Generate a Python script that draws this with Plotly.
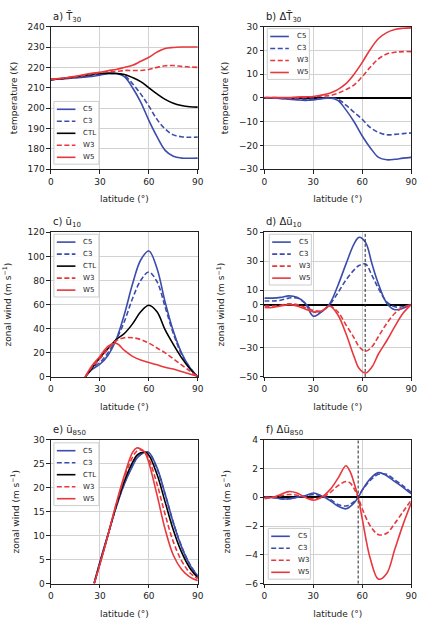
import plotly.graph_objects as go

# ---------------- data ----------------
lat_ab = [0, 5, 10, 15, 20, 25, 30, 35, 40, 45, 50, 55, 60, 65, 70, 75, 80, 85, 90]

# a) T30 (K)
T30_C5 = [214, 214.3, 214.6, 214.9, 215.2, 215.6, 216.2, 216.9, 217, 215.5, 210, 203, 194, 186, 179.3, 176.4, 175.5, 175.4, 175.5]
T30_C3 = [214, 214.3, 214.6, 215, 215.5, 216, 216.5, 217, 217, 216, 212, 207, 201, 194.5, 189.8, 186.9, 186, 185.7, 185.8]
T30_CTL = [214, 214.3, 214.8, 215.4, 216, 216.6, 217, 217.2, 217, 216.5, 215, 213, 210, 207, 204.3, 202.4, 201.3, 200.7, 200.5]
T30_W3 = [214.2, 214.5, 214.9, 215.4, 216.1, 216.9, 217.5, 218, 218, 218.5, 218.5, 218.5, 219, 220, 220.8, 220.9, 220.5, 220.2, 220]
T30_W5 = [214.2, 214.5, 215, 215.6, 216.4, 217.1, 217.6, 218.4, 219, 220, 221, 223, 225, 227.5, 229.3, 229.8, 230, 230, 230]

# b) delta T30 (K)
dT30_C5 = [0, 0, -0.2, -0.5, -0.8, -1, -0.8, -0.3, 0, -1, -5, -10, -16, -21, -25, -26, -25.8, -25.3, -25]
dT30_C3 = [0, 0, -0.2, -0.4, -0.5, -0.6, -0.5, -0.2, 0, -0.5, -3, -6, -9, -12.5, -14.5, -15.5, -15.3, -15, -14.7]
dT30_W3 = [0.2, 0.2, 0.1, 0, 0.1, 0.3, 0.5, 0.8, 1, 2, 3.5, 5.5, 9, 13, 16.5, 18.5, 19.2, 19.5, 19.5]
dT30_W5 = [0.2, 0.2, 0.2, 0.2, 0.4, 0.5, 0.6, 1.2, 2, 3.5, 6, 10, 15, 20.5, 25, 27.5, 28.8, 29.3, 29.5]

# c) u10 (m/s)
lat_c = [21, 25, 30, 35, 40, 45, 50, 55, 60, 65, 70, 75, 80, 85, 90]
u10_C5 = [0, 6, 10.5, 18, 31, 52, 77, 97, 104.5, 90, 62, 38, 20, 8, 0]
u10_C3 = [0, 7, 12, 20, 31, 46, 65, 80, 87, 79, 58, 36, 19, 8, 0]
u10_CTL = [0, 7, 16, 23.5, 31, 36, 44, 54, 59.5, 54, 39, 27, 16, 7, 0]
u10_W3 = [0, 8, 15, 23, 30, 32.5, 32.5, 31, 28, 24, 20, 15, 10, 5, 0]
u10_W5 = [0, 9, 17, 25.5, 27.8, 22, 17, 14, 12, 10, 8, 6.5, 4.5, 2.5, 0.5]

# d) delta u10 (m/s)
lat_d = [0, 5, 10, 15, 20, 25, 30, 35, 40, 45, 50, 55, 58, 62, 66, 70, 75, 80, 85, 90]
du10_C5 = [4.5, 4.5, 5, 6, 5, 1, -8, -5, 0.5, 13, 28, 42, 46.5, 43, 28, 14, 1, -3.5, -2.5, 0]
du10_C3 = [2.5, 2.5, 3, 4.5, 4.5, 1, -5, -5, 0, 8, 17, 24, 27, 28, 20, 11, 2, -1.5, -1.5, 0]
du10_W3 = [-1, -1, -0.5, 0.5, 0, -2, -4, -4.5, -1, -5, -14, -23, -29, -32.3, -29, -22, -13, -6, -2, 0]
du10_W5 = [-2, -2, -1, 0, -1, -3, -5, -4.5, -1, -7, -20, -36, -44, -47.3, -43, -34, -25, -15, -6, 0]
jet_lat_d = 61.8

# e) u850 (m/s)
lat_e = [26.5, 30, 35, 40, 45, 50, 52.5, 55, 57.5, 60, 65, 70, 75, 80, 85, 90]
u850_C5 = [0.1, 4.5, 10.3, 16.0, 20.8, 24.5, 26.1, 26.9, 27.4, 27.4, 24.2, 18.7, 12.7, 7.7, 4.0, 1.5]
u850_C3 = [0.1, 4.4, 10.3, 16.0, 20.9, 24.7, 26.2, 27.0, 27.4, 27.3, 24.0, 18.6, 12.75, 7.8, 4.1, 1.6]
u850_CTL = [0, 4.2, 10.2, 16.2, 21.4, 25.3, 26.7, 27.3, 27.4, 26.8, 22.8, 17.0, 11.2, 6.6, 3.3, 1.2]
u850_W3 = [0, 4.1, 10.2, 16.5, 22.2, 26.4, 27.6, 27.9, 27.4, 26.0, 20.8, 14.4, 8.7, 4.8, 2.3, 1.0]
u850_W5 = [0, 4.0, 10.2, 16.7, 22.6, 27.4, 28.3, 28.1, 27.4, 25.2, 18.5, 11.3, 5.9, 3.0, 1.4, 0.6]

# f) delta u850 (m/s)
lat_f = [0, 5, 10, 15, 20, 25, 30, 35, 40, 45, 50, 52.5, 55, 57.5, 60, 65, 70, 75, 80, 85, 90]
du850_C5 = [0, 0, -0.1, -0.1, 0, 0.1, 0.3, 0.1, -0.2, -0.6, -0.8, -0.65, -0.4, 0, 0.5, 1.3, 1.72, 1.5, 1.1, 0.7, 0.25]
du850_C3 = [0, 0, -0.1, -0.1, 0, 0.1, 0.2, 0.1, -0.1, -0.5, -0.6, -0.5, -0.3, 0, 0.5, 1.2, 1.6, 1.6, 1.2, 0.8, 0.35]
du850_W3 = [0, 0, 0.1, 0.2, 0.15, 0, -0.1, 0, 0.3, 0.8, 1.1, 1.0, 0.6, 0, -0.8, -2.0, -2.6, -2.5, -1.8, -1.0, -0.2]
du850_W5 = [-0.1, 0, 0.2, 0.4, 0.3, 0, -0.2, 0, 0.5, 1.3, 2.2, 1.8, 1.0, 0, -1.5, -4.3, -5.7, -5.3, -3.6, -1.9, -0.4]
jet_lat_f = 57.5

# ---------------- style ----------------
W, H = 426, 620
FONT = "DejaVu Sans"
TXT = "#222222"
BLUE = "#3b4cab"
RED = "#e8383d"
DASH = "5px,2.5px"
STYLE = {
    "C5": (BLUE, "solid"),
    "C3": (BLUE, DASH),
    "CTL": ("black", "solid"),
    "W3": (RED, DASH),
    "W5": (RED, "solid"),
}

fig = go.Figure()

xdom_l = [49 / W, 199 / W]
xdom_r = [267 / W, 417 / W]
ydom_1 = [1 - 167 / H, 1 - 22 / H]
ydom_2 = [1 - 378 / H, 1 - 231 / H]
ydom_3 = [1 - 588 / H, 1 - 442 / H]

WIND = "zonal wind (m s<sup>\u22121</sup>)"
panels = [
    # idx, x, series, xdom, ydom, yrange, yticks, ytitle, standoff, title, zeroline, legend top-left (px)
    (1, lat_ab, {"C5": T30_C5, "C3": T30_C3, "CTL": T30_CTL, "W3": T30_W3, "W5": T30_W5},
     xdom_l, ydom_1, [170, 240], list(range(170, 241, 10)), "temperature (K)", 8,
     "a) T\u0303<sub>30</sub>", False, (52, 98)),
    (2, lat_ab, {"C5": dT30_C5, "C3": dT30_C3, "W3": dT30_W3, "W5": dT30_W5},
     xdom_r, ydom_1, [-30, 30], list(range(-30, 31, 10)), "temperature (K)", 8,
     "b) \u0394T\u0303<sub>30</sub>", True, (270, 24)),
    (3, lat_c, {"C5": u10_C5, "C3": u10_C3, "CTL": u10_CTL, "W3": u10_W3, "W5": u10_W5},
     xdom_l, ydom_2, [0, 120], list(range(0, 121, 20)), WIND, 14,
     "c) \u0169<sub>10</sub>", False, (52, 233)),
    (4, lat_d, {"C5": du10_C5, "C3": du10_C3, "W3": du10_W3, "W5": du10_W5},
     xdom_r, ydom_2, [-50, 50], [-50, -30, -10, 0, 10, 30, 50], WIND, 12,
     "d) \u0394\u0169<sub>10</sub>", True, (272, 233)),
    (5, lat_e, {"C5": u850_C5, "C3": u850_C3, "CTL": u850_CTL, "W3": u850_W3, "W5": u850_W5},
     xdom_l, ydom_3, [0, 30], list(range(0, 31, 5)), WIND, 12,
     "e) \u0169<sub>850</sub>", False, (52, 445)),
    (6, lat_f, {"C5": du850_C5, "C3": du850_C3, "W3": du850_W3, "W5": du850_W5},
     xdom_r, ydom_3, [-6, 4], list(range(-6, 5, 2)), WIND, 12,
     "f) \u0394\u0169<sub>850</sub>", True, (271, 532)),
]

layout = dict(
    width=W, height=H,
    margin=dict(l=0, r=0, t=0, b=0),
    paper_bgcolor="white", plot_bgcolor="white",
    font=dict(family=FONT, size=9, color=TXT),
    showlegend=False,
    annotations=[], shapes=[],
)


def px(x):
    return x / W


def py(y):
    return 1 - y / H


for idx, xs, series, xdom, ydom, yr, yt, ytitle, stand, title, zl, lpos in panels:
    sfx = "" if idx == 1 else str(idx)
    for name, vals in series.items():
        color, dash = STYLE[name]
        fig.add_trace(go.Scatter(
            x=xs, y=vals, mode="lines", name=name,
            line=dict(color=color, dash=dash, width=1.6, shape="spline", smoothing=1),
            xaxis=f"x{sfx}", yaxis=f"y{sfx}",
        ))
    axcommon = dict(
        showgrid=True, gridcolor="#d2d2d2", gridwidth=1,
        showline=True, mirror=True, linecolor=TXT, linewidth=1,
        ticks="outside", ticklen=3.5, tickcolor=TXT, tickwidth=1,
        tickfont=dict(size=9, family=FONT, color=TXT),
    )
    layout[f"xaxis{sfx}"] = dict(
        axcommon, domain=xdom, anchor=f"y{sfx}", range=[0, 90],
        tickvals=[0, 30, 60, 90], zeroline=False,
        title=dict(text="latitude (\u00b0)", font=dict(size=9, family=FONT, color=TXT), standoff=10),
    )
    layout[f"yaxis{sfx}"] = dict(
        axcommon, domain=ydom, anchor=f"x{sfx}", range=yr, tickvals=yt,
        zeroline=zl, zerolinecolor="black", zerolinewidth=1.5,
        tickformat="d",
        title=dict(text=ytitle, font=dict(size=9, family=FONT, color=TXT), standoff=stand),
    )
    layout["annotations"].append(dict(
        text=title, xref=f"x{sfx} domain", yref=f"y{sfx} domain", x=0.0, y=1.0,
        xanchor="left", yanchor="bottom", yshift=1, showarrow=False,
        font=dict(size=10, family=FONT, color=TXT),
    ))

    # legend box drawn as a small key (line sample + label per series)
    lx, ly = lpos
    names = list(series.keys())
    n = len(names)
    step = 12.2
    bw = 46 if "CTL" in names else 43
    bh = 8 + (n - 1) * step + 7
    layout["shapes"].append(dict(
        type="rect", xref="paper", yref="paper",
        x0=px(lx), x1=px(lx + bw), y0=py(ly + bh), y1=py(ly),
        fillcolor="rgba(255,255,255,0.85)", line=dict(color="#cccccc", width=1), layer="above",
    ))
    for k, name in enumerate(names):
        color, dash = STYLE[name]
        yc = ly + 8 + k * step
        layout["shapes"].append(dict(
            type="line", xref="paper", yref="paper",
            x0=px(lx + 3), x1=px(lx + 22), y0=py(yc), y1=py(yc),
            line=dict(color=color, dash=dash, width=1.6), layer="above",
        ))
        layout["annotations"].append(dict(
            text=name, xref="paper", yref="paper", x=px(lx + 28), y=py(yc),
            xanchor="left", yanchor="middle", showarrow=False,
            font=dict(size=7, family=FONT, color=TXT),
        ))

for sfx, jl in (("4", jet_lat_d), ("6", jet_lat_f)):
    layout["shapes"].append(dict(
        type="line", xref=f"x{sfx}", yref=f"y{sfx} domain",
        x0=jl, x1=jl, y0=0, y1=1,
        line=dict(color=TXT, width=1, dash="3px,2px"),
    ))

fig.update_layout(**layout)
fig.write_html("out.html")
